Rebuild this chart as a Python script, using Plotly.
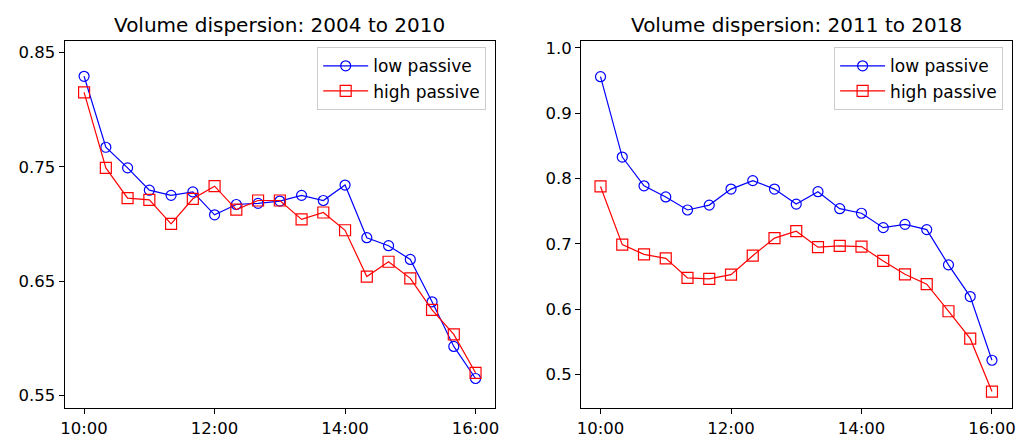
import plotly.graph_objects as go

times = ["10:00", "10:20", "10:40", "11:00", "11:20", "11:40", "12:00", "12:20", "12:40",
         "13:00", "13:20", "13:40", "14:00", "14:20", "14:40", "15:00", "15:20", "15:40", "16:00"]

low_2004 = [0.829, 0.767, 0.749, 0.7295, 0.725, 0.728, 0.708, 0.717, 0.718,
            0.720, 0.725, 0.7205, 0.734, 0.688, 0.681, 0.669, 0.632, 0.593, 0.565]
high_2004 = [0.815, 0.749, 0.7225, 0.721, 0.700, 0.722, 0.733, 0.7125, 0.7205,
             0.7205, 0.704, 0.710, 0.6945, 0.654, 0.667, 0.6525, 0.625, 0.6035, 0.570]

low_2011 = [0.956, 0.833, 0.789, 0.772, 0.752, 0.7595, 0.784, 0.797, 0.784,
            0.761, 0.780, 0.754, 0.747, 0.725, 0.730, 0.722, 0.668, 0.6195, 0.522]
high_2011 = [0.788, 0.699, 0.684, 0.678, 0.648, 0.6465, 0.653, 0.682, 0.709,
             0.7195, 0.695, 0.697, 0.696, 0.674, 0.6535, 0.6385, 0.597, 0.555, 0.474]

titles = ["Volume dispersion: 2004 to 2010", "Volume dispersion: 2011 to 2018"]
xtick_labels = ["10:00", "12:00", "14:00", "16:00"]
ytick_left = [0.55, 0.65, 0.75, 0.85]
ytick_right = [0.5, 0.6, 0.7, 0.8, 0.9, 1.0]


def to_min(t):
    h, m = t.split(":")
    return (int(h) - 10) * 60 + int(m)


xs = [to_min(t) for t in times]
xtick_vals = [to_min(t) for t in xtick_labels]

W, H = 1021, 438
fig = go.Figure()

panels = [
    dict(low=low_2004, high=high_2004, xa="x", ya="y", leg="legend"),
    dict(low=low_2011, high=high_2011, xa="x2", ya="y2", leg="legend2"),
]

for p in panels:
    fig.add_trace(go.Scatter(
        x=xs, y=p["low"], name="low passive", mode="lines+markers",
        line=dict(color="blue", width=1.2),
        marker=dict(symbol="circle-open", size=10, color="blue", line=dict(width=1.2)),
        xaxis=p["xa"], yaxis=p["ya"], legend=p["leg"]))
    fig.add_trace(go.Scatter(
        x=xs, y=p["high"], name="high passive", mode="lines+markers",
        line=dict(color="red", width=1.2),
        marker=dict(symbol="square-open", size=11, color="red", line=dict(width=1.2)),
        xaxis=p["xa"], yaxis=p["ya"], legend=p["leg"]))

font = dict(family="DejaVu Sans", size=16.5, color="black")
axis_common = dict(showline=True, linecolor="black", linewidth=1, mirror=True,
                   ticks="outside", ticklen=5, tickcolor="black", tickwidth=1,
                   showgrid=False, zeroline=False, tickfont=font)

legfont = dict(family="DejaVu Sans", size=17, color="black")
xrange = [-18, 378]
fig.update_layout(
    width=W, height=H,
    margin=dict(l=0, r=0, t=0, b=0),
    paper_bgcolor="white", plot_bgcolor="white",
    font=font,
    xaxis=dict(domain=[61 / W, 495 / W], anchor="y", range=xrange,
               tickvals=xtick_vals, ticktext=xtick_labels, **axis_common),
    yaxis=dict(domain=[1 - 411.5 / H, 1 - 39 / H], anchor="x", range=[0.5393, 0.8595],
               tickvals=ytick_left, tickformat=".2f", **axis_common),
    xaxis2=dict(domain=[581.5 / W, 1015.5 / W], anchor="y2", range=xrange,
                tickvals=xtick_vals, ticktext=xtick_labels, **axis_common),
    yaxis2=dict(domain=[1 - 411.5 / H, 1 - 39 / H], anchor="x2", range=[0.449, 1.0101],
                tickvals=ytick_right, tickformat=".1f", **axis_common),
    legend=dict(x=486 / W, y=1 - 45 / H, xanchor="right", yanchor="top",
                bordercolor="#cccccc", borderwidth=1, bgcolor="white", font=legfont,
                itemwidth=45),
    legend2=dict(x=1007 / W, y=1 - 45 / H, xanchor="right", yanchor="top",
                 bordercolor="#cccccc", borderwidth=1, bgcolor="white", font=legfont,
                 itemwidth=45),
    showlegend=True,
)

centers = [(61 + 495) / 2 / W, (581.5 + 1015.5) / 2 / W]
for t, cx in zip(titles, centers):
    fig.add_annotation(text=t, x=cx, y=1 - 22 / H, xref="paper", yref="paper",
                       xanchor="center", yanchor="middle", showarrow=False,
                       font=dict(family="DejaVu Sans", size=20, color="black"))

fig.write_html("out.html")
